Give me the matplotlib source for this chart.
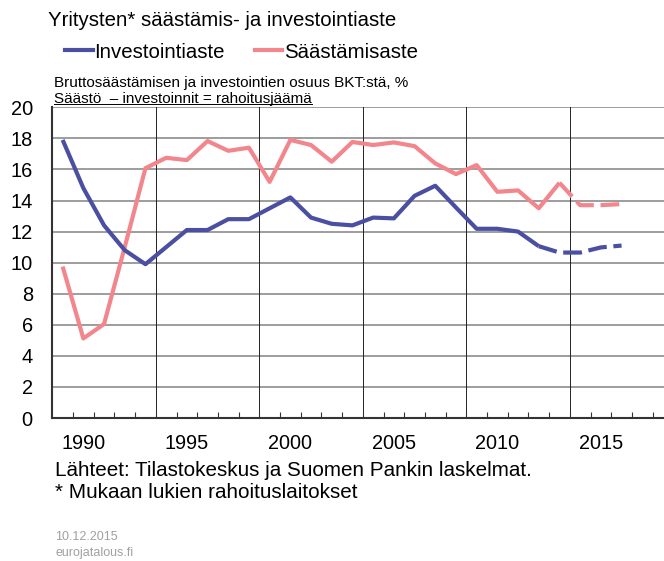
import matplotlib
matplotlib.use("Agg")
import matplotlib.pyplot as plt
from matplotlib.lines import Line2D
import numpy as np

plt.rcParams['font.family'] = ['Liberation Sans', 'DejaVu Sans']

years = list(range(1989, 2017))
investointiaste = [17.9, 14.8, 12.4, 10.8, 9.9, 11.0, 12.1, 12.1, 12.8, 12.8,
                   13.5, 14.2, 12.9, 12.5, 12.4, 12.9, 12.85, 14.3, 14.95, 13.55,
                   12.18, 12.18, 12.0, 11.06, 10.65, 10.65, 10.98, 11.1]
saastamisaste = [9.75, 5.12, 6.05, 11.0, 16.08, 16.75, 16.6, 17.83, 17.2, 17.4,
                 15.2, 17.9, 17.57, 16.5, 17.77, 17.57, 17.74, 17.5, 16.39, 15.7,
                 16.28, 14.56, 14.65, 13.5, 15.14, 13.7, 13.7, 13.77]
inv_forecast_start = 2012
sav_forecast_start = 2013
xtick_years = [1990, 1995, 2000, 2005, 2010, 2015]
yticks = list(range(0, 21, 2))

title = "Yritysten* säästämis- ja investointiaste"
legend_labels = ["Investointiaste", "Säästämisaste"]
subtitle1 = "Bruttosäästämisen ja investointien osuus BKT:stä, %"
subtitle2 = "Säästö  – investoinnit = rahoitusjäämä"
source1 = "Lähteet: Tilastokeskus ja Suomen Pankin laskelmat."
source2 = "* Mukaan lukien rahoituslaitokset"
date_txt = "10.12.2015"
site_txt = "eurojatalous.fi"

BLUE = "#4a4fa2"
PINK = "#f3868d"

W, H = 664, 561
fig = plt.figure(figsize=(W / 100, H / 100), dpi=100)
ax = fig.add_axes([52.3 / W, (H - 418) / H, (W - 52.3) / W, (418 - 107.3) / H])

yrs = np.array(years)
inv = np.array(investointiaste)
sav = np.array(saastamisaste)
lw = 3.0
dash = (0, (4.5, 1.6))

m = yrs <= inv_forecast_start
ax.plot(yrs[m], inv[m], color=BLUE, lw=lw, solid_capstyle='butt', zorder=4)
m2 = yrs >= inv_forecast_start
ax.plot(yrs[m2], inv[m2], color=BLUE, lw=lw, linestyle=dash, dash_capstyle='butt', zorder=4)

m = yrs <= sav_forecast_start
ax.plot(yrs[m], sav[m], color=PINK, lw=lw, solid_capstyle='butt', zorder=3)
m2 = yrs >= sav_forecast_start
ax.plot(yrs[m2], sav[m2], color=PINK, lw=lw, linestyle=dash, dash_capstyle='butt', zorder=3)

ax.set_xlim(1988.5, 1988.5 + (W - 52.3) / 20.7)
ax.set_ylim(0, 20)

ax.set_yticks(yticks)
ax.set_yticklabels([str(v) for v in yticks], fontsize=14.4)
ax.tick_params(axis='y', length=0, pad=14)

ax.set_xticks(xtick_years)
ax.set_xticklabels([str(v) for v in xtick_years], fontsize=14.3)
ax.tick_params(axis='x', which='major', length=0, pad=11.5)
ax.set_xticks(np.arange(1989.5, 2018, 1.0), minor=True)
ax.tick_params(axis='x', which='minor', direction='in', length=4, width=0.8, color='#333333')

for v in yticks:
    ax.axhline(v, color='#8c8c8c', lw=1.2, zorder=1)
for xv in np.arange(1993.5, 2018, 5):
    ax.axvline(xv, color='#222222', lw=0.7, zorder=1)

for s in ['top', 'right']:
    ax.spines[s].set_visible(False)
for s in ['left', 'bottom']:
    ax.spines[s].set_color('#333333')
    ax.spines[s].set_linewidth(1.5)
    ax.spines[s].set_zorder(5)

fig.text(48 / W, 1 - 21 / H, title, fontsize=14.7, va='center', ha='left')

handles = [Line2D([], [], color=BLUE, lw=lw), Line2D([], [], color=PINK, lw=lw)]
fig.legend(handles, legend_labels, ncol=2, frameon=False, fontsize=14.7,
           loc='center left', bbox_to_anchor=(65 / W, 1 - 52 / H),
           handlelength=1.35, handletextpad=0.1, columnspacing=1.45, borderpad=0,
           borderaxespad=0)

fig.text(54 / W, 1 - 83 / H, subtitle1, fontsize=11, va='center', ha='left')
t2 = fig.text(54 / W, 1 - 98.5 / H, subtitle2, fontsize=11, va='center', ha='left')
fig.canvas.draw()
bb = t2.get_window_extent()
fig.add_artist(Line2D([bb.x0 / W, bb.x1 / W], [1 - 103.5 / H, 1 - 103.5 / H],
                      color='black', lw=0.7, transform=fig.transFigure))

fig.text(55 / W, 1 - 470 / H, source1, fontsize=14.9, va='center', ha='left')
fig.text(55 / W, 1 - 493 / H, source2, fontsize=14.9, va='center', ha='left')
fig.text(55 / W, 1 - 537 / H, date_txt, fontsize=9, va='center', ha='left', color='#a0a0a0')
fig.text(55 / W, 1 - 553 / H, site_txt, fontsize=9, va='center', ha='left', color='#a0a0a0')

fig.savefig("out.png", dpi=100)
